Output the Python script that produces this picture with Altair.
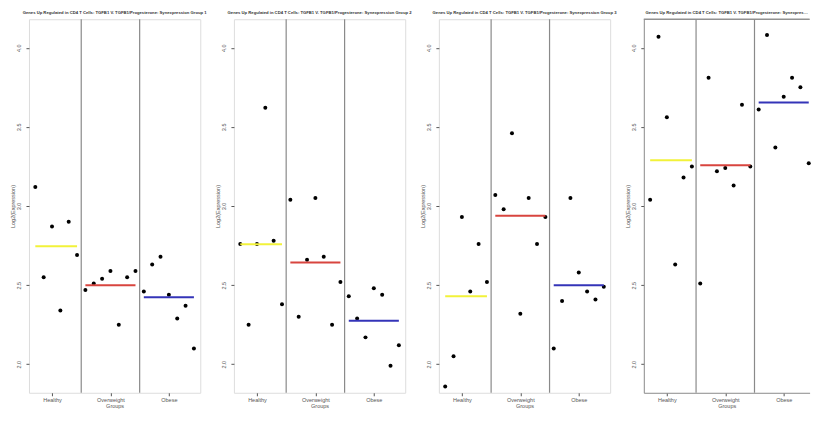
import altair as alt
import pandas as pd

groups = ["Healthy", "Overweight", "Obese"]
mean_colors = ["#f2f23a", "#d8453f", "#3434b8"]
panel_titles = [
    "Genes Up Regulated in CD4 T Cells: TGFB1 V. TGFB1/Progesterone: Synexpression Group 1",
    "Genes Up Regulated in CD4 T Cells: TGFB1 V. TGFB1/Progesterone: Synexpression Group 2",
    "Genes Up Regulated in CD4 T Cells: TGFB1 V. TGFB1/Progesterone: Synexpression Group 3",
    "Genes Up Regulated in CD4 T Cells: TGFB1 V. TGFB1/Progesterone: Synexpression Group 4",
]
y_ticks = [2.0, 2.5, 3.0, 3.5, 4.0]
y_domain = [1.82, 4.18]

p1_healthy = [3.12, 2.55, 2.87, 2.34, 2.90, 2.69]
p1_overweight = [2.47, 2.51, 2.54, 2.59, 2.25, 2.55, 2.59]
p1_obese = [2.46, 2.63, 2.68, 2.44, 2.29, 2.37, 2.10]

p2_healthy = [2.76, 2.25, 2.76, 3.62, 2.78, 2.38]
p2_overweight = [3.04, 2.30, 2.66, 3.05, 2.68, 2.25, 2.52]
p2_obese = [2.43, 2.29, 2.17, 2.48, 2.44, 1.99, 2.12]

p3_healthy = [1.86, 2.05, 2.93, 2.46, 2.76, 2.52]
p3_overweight = [3.07, 2.98, 3.46, 2.32, 3.05, 2.76, 2.93]
p3_obese = [2.10, 2.40, 3.05, 2.58, 2.46, 2.41, 2.49]

p4_healthy = [3.04, 4.07, 3.56, 2.63, 3.18, 3.25]
p4_overweight = [2.51, 3.81, 3.22, 3.24, 3.13, 3.64, 3.25]
p4_obese = [3.61, 4.08, 3.37, 3.69, 3.81, 3.75, 3.27]

panels_data = [
    (p1_healthy, p1_overweight, p1_obese),
    (p2_healthy, p2_overweight, p2_obese),
    (p3_healthy, p3_overweight, p3_obese),
    (p4_healthy, p4_overweight, p4_obese),
]

FONT = "Liberation Sans"
GRAY = "#8a8a8a"
TXT = "#555555"
W, H = 171.5, 374
W_LAST = 166  # last panel runs off the page edge in the reference
SPACING = 33.2


def make_panel(title, data, width, last=False):
    rows = []
    idx = 1
    tick_vals = []
    bounds = []
    for g, vals in zip(groups, data):
        start = idx
        tick_vals.append(start + (len(vals) - 1) // 2)
        for v in vals:
            rows.append({"idx": idx, "val": v, "group": g})
            idx += 1
        bounds.append(idx - 0.5)
    n = idx - 1
    bounds = bounds[:-1]
    x_lo = 1 - 0.04 * (n - 1)
    x_hi = n + 0.04 * (n - 1)
    # keep the same units-per-pixel on a cropped panel
    x_hi = x_lo + (x_hi - x_lo) * width / W
    df = pd.DataFrame(rows)
    df_div = pd.DataFrame({"b": bounds})
    label_expr = " : ".join(
        f"datum.value == {t} ? '{g}'" for t, g in zip(tick_vals, groups)
    ) + " : ''"

    xs = alt.Scale(domain=[x_lo, x_hi], nice=False, zero=False)
    ys = alt.Scale(domain=y_domain, nice=False, zero=False)

    x_axis = alt.Axis(
        values=tick_vals, labelExpr=label_expr, title="Groups", grid=False,
        domain=last, domainColor=GRAY, domainWidth=1,
        tickSize=3, tickColor=TXT, labelPadding=1.5,
        labelFontSize=5.5, labelColor=TXT, titleFontSize=5.5, titleColor=TXT,
        titleFontWeight="normal", titlePadding=1, labelFont=FONT, titleFont=FONT,
    )
    y_axis = alt.Axis(
        values=y_ticks, format=".1f", title="Log2(Expression)", grid=False,
        domain=last, domainColor=GRAY, domainWidth=1,
        tickSize=3, tickColor=TXT, labelAngle=270,
        labelAlign="center", labelBaseline="bottom", labelPadding=4,
        labelFontSize=5.5, labelColor=TXT, titleFontSize=5.5, titleColor=TXT,
        titleFontWeight="normal", titlePadding=1, labelFont=FONT, titleFont=FONT,
        minExtent=12, maxExtent=12,
    )

    div = alt.Chart(df_div).mark_rule(color=GRAY, strokeWidth=1.2).encode(
        x=alt.X("b:Q", scale=xs, axis=x_axis)
    )
    pts = alt.Chart(df).mark_circle(color="black", opacity=1, size=16).encode(
        x=alt.X("idx:Q", scale=xs, axis=x_axis),
        y=alt.Y("val:Q", scale=ys, axis=y_axis),
    )
    means = alt.Chart(df).mark_rule(strokeWidth=2).encode(
        x=alt.X("min(idx):Q", scale=xs, axis=x_axis),
        x2="max(idx):Q",
        y=alt.Y("mean(val):Q", scale=ys, axis=y_axis),
        color=alt.Color("group:N", scale=alt.Scale(domain=groups, range=mean_colors), legend=None),
    )
    layers = [div, pts, means]
    if last:
        top = alt.Chart(df_div).mark_rule(color=GRAY, strokeWidth=1).encode(
            y=alt.datum(y_domain[1], scale=ys)
        )
        layers.insert(0, top)
    tkw = dict(fontSize=4.2, fontWeight="bold", offset=3, anchor="middle",
               color="#333333", font=FONT)
    if last:
        tkw["limit"] = width - 2
    props = dict(width=width, height=H, title=alt.Title(title, **tkw))
    if last:
        props["view"] = alt.ViewBackground(stroke="transparent")
    return alt.layer(*layers).properties(**props)


panels = []
for i, (t, d) in enumerate(zip(panel_titles, panels_data)):
    last = i == 3
    panels.append(make_panel(t, d, W_LAST if last else W, last=last))

chart = alt.hconcat(*panels, spacing=SPACING, bounds="flush").properties(
    padding={"left": 2, "right": 0, "top": 2, "bottom": 0}
).configure_view(
    stroke=GRAY, strokeWidth=1
).configure(background="white")

chart.save("out.html", embed_options={"renderer": "svg", "actions": False})
